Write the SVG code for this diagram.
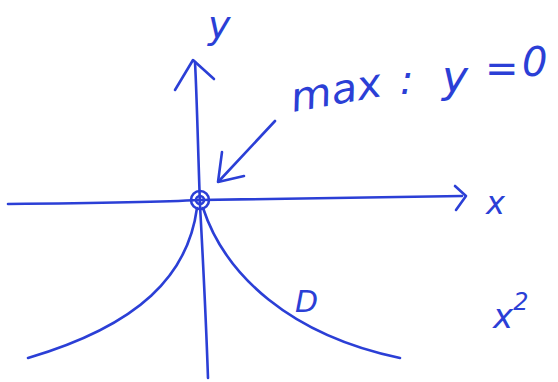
<svg xmlns="http://www.w3.org/2000/svg" width="558" height="382" viewBox="0 0 558 382">
<style>
.ink{fill:none;stroke:#2b3fd6;stroke-width:2.6;stroke-linecap:round;stroke-linejoin:round}
.hand{font-family:"DejaVu Sans","Liberation Sans",sans-serif;font-style:italic;fill:#2b3fd6}
</style>
<rect width="558" height="382" fill="#ffffff"/>
<g id="axes">
<g id="y-axis">
<path class="ink" d="M208 378 C206 320 203 260 200 205 C198 150 197 100 195 62"/>
<path class="ink" d="M175 90 L193 60 L214 79"/>
<text class="hand" x="208" y="38" font-size="38">y</text>
</g>
<g id="x-axis">
<path class="ink" d="M8 204 C100 203 160 202 200 200 C300 198 400 197 462 196"/>
<path class="ink" d="M455 186 L466 196 L456 210"/>
<text class="hand" x="486" y="214" font-size="32">x</text>
</g>
</g>
<g id="max-point">
<circle class="ink" cx="200" cy="200" r="9" stroke-width="3"/>
<circle class="ink" cx="200" cy="200" r="4" stroke-width="2"/>
</g>
<g id="curve-D">
<path class="ink" d="M197 208 C188 275 140 325 28 358"/>
<path class="ink" d="M203 208 C225 275 290 335 400 358"/>
<text class="hand" x="295" y="312" font-size="30">D</text>
</g>
<g id="connectors">
<path class="ink" d="M275 121 L219 181"/>
<path class="ink" d="M222 152 L218 182 L244 176"/>
</g>
<g id="label" class="hand" font-size="40">
<text x="293" y="112" transform="rotate(-10 293 112)" textLength="92" lengthAdjust="spacingAndGlyphs">max</text>
<text x="400" y="94">:</text>
<text x="442" y="92" font-size="44">y</text>
<text x="485" y="82">=</text>
<text x="522" y="76">0</text>
</g>
<g id="x2">
<text class="hand" x="493" y="328" font-size="34">x<tspan dy="-18" font-size="24">2</tspan></text>
</g>
</svg>
